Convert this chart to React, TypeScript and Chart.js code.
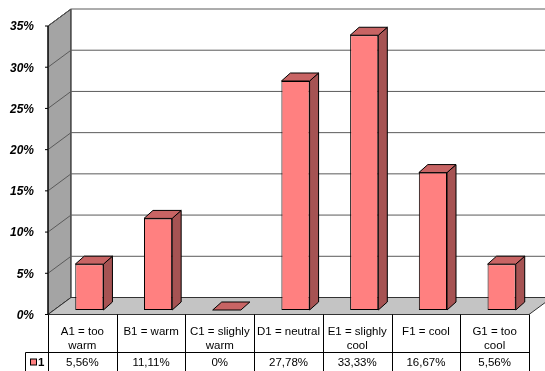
import React, { useEffect, useRef } from "react";
import { Chart, registerables } from "chart.js";

Chart.register(...registerables);

// Thermal sensation votes, share of answers per category
const categories: string[][] = [
  ["A1 = too", "warm"],
  ["B1 = warm"],
  ["C1 = slighly", "warm"],
  ["D1 = neutral"],
  ["E1 = slighly", "cool"],
  ["F1 = cool"],
  ["G1 = too", "cool"],
];
const shares: number[] = [5.56, 11.11, 0, 27.78, 33.33, 16.67, 5.56];
const seriesName = "1";
const axisMax = 35;
const axisStep = 5;

// 3D look: depth of walls/floor and of the columns
const WALL_DX = 23;
const WALL_DY = -17;
const BAR_SHIFT_X = 7;
const BAR_SHIFT_Y = -4.5;
const BAR_DX = 9;
const BAR_DY = -8;

const FRONT = "#ff8080";
const SIDE = "#a65353";
const TOP = "#c86464";
const LEFT_WALL = "#a4a4a4";
const FLOOR = "#c4c4c4";
const GRID = "#5a5a5a";
const FONT = "Arial, 'Liberation Sans', sans-serif";

const fmtValue = (v: number) =>
  v === 0 ? "0%" : v.toFixed(2).replace(".", ",") + "%";

const poly = (ctx: CanvasRenderingContext2D, pts: number[][], fill: string, stroke = "#000") => {
  ctx.beginPath();
  ctx.moveTo(pts[0][0], pts[0][1]);
  for (let i = 1; i < pts.length; i++) ctx.lineTo(pts[i][0], pts[i][1]);
  ctx.closePath();
  ctx.fillStyle = fill;
  ctx.fill();
  ctx.strokeStyle = stroke;
  ctx.lineWidth = 1;
  ctx.stroke();
};

const line = (ctx: CanvasRenderingContext2D, x1: number, y1: number, x2: number, y2: number, color: string) => {
  ctx.beginPath();
  ctx.moveTo(x1, y1);
  ctx.lineTo(x2, y2);
  ctx.strokeStyle = color;
  ctx.lineWidth = 1;
  ctx.stroke();
};

const box3d = {
  id: "box3d",
  beforeDatasetsDraw(chart: any) {
    const { ctx, chartArea: a, scales, width } = chart;
    const ys = scales.y;
    ctx.save();
    // left wall
    poly(ctx, [
      [a.left, a.top],
      [a.left + WALL_DX, a.top + WALL_DY],
      [a.left + WALL_DX, a.bottom + WALL_DY],
      [a.left, a.bottom],
    ], LEFT_WALL);
    // gridlines on back and left wall
    ys.ticks.forEach((t: any) => {
      const py = ys.getPixelForValue(t.value);
      if (t.value > 0) {
        line(ctx, a.left + WALL_DX, py + WALL_DY, width + 5, py + WALL_DY, GRID);
        line(ctx, a.left, py, a.left + WALL_DX, py + WALL_DY, GRID);
      }
    });
    // floor
    poly(ctx, [
      [a.left, a.bottom],
      [a.right, a.bottom],
      [a.right + WALL_DX, a.bottom + WALL_DY],
      [a.left + WALL_DX, a.bottom + WALL_DY],
    ], FLOOR, "#333");
    // front value axis with tick marks and labels
    line(ctx, a.left, a.top, a.left, a.bottom, "#000");
    ctx.font = `italic bold 12px ${FONT}`;
    ctx.fillStyle = "#000";
    ctx.textAlign = "right";
    ctx.textBaseline = "middle";
    ys.ticks.forEach((t: any) => {
      const py = ys.getPixelForValue(t.value);
      line(ctx, a.left - 3, py, a.left, py, "#000");
      ctx.fillText(`${t.value}%`, a.left - 14, py + 1);
    });
    ctx.restore();

    // columns sit in the middle of the floor depth
    ctx.save();
    ctx.translate(BAR_SHIFT_X, BAR_SHIFT_Y);
  },
  afterDatasetsDraw(chart: any) {
    const ctx = chart.ctx;
    const meta = chart.getDatasetMeta(0);
    meta.data.forEach((bar: any) => {
      const { x, y, base, width } = bar.getProps(["x", "y", "base", "width"], true);
      const l = x - width / 2;
      const r = x + width / 2;
      if (base - y > 0.5) {
        poly(ctx, [
          [r, y],
          [r + BAR_DX, y + BAR_DY],
          [r + BAR_DX, base + BAR_DY],
          [r, base],
        ], SIDE);
      }
      poly(ctx, [
        [l, y],
        [l + BAR_DX, y + BAR_DY],
        [r + BAR_DX, y + BAR_DY],
        [r, y],
      ], TOP);
    });
    ctx.restore();
  },
  afterDraw(chart: any) {
    const { ctx, chartArea: a, scales, height } = chart;
    const xs = scales.x;
    const n = categories.length;
    const cell = (a.right - a.left) / n;
    const rowY = a.bottom + 38;
    ctx.save();
    // data table grid
    for (let i = 0; i <= n; i++) {
      const px = Math.round(a.left + i * cell) + 0.5;
      line(ctx, px, a.bottom, px, height + 2, "#000");
    }
    line(ctx, 25.5, rowY, a.right, rowY, "#000");
    line(ctx, 25.5, rowY, 25.5, height + 2, "#000");
    // legend key
    ctx.fillStyle = FRONT;
    ctx.fillRect(30.5, rowY + 6.5, 6, 6);
    ctx.strokeStyle = "#000";
    ctx.strokeRect(30.5, rowY + 6.5, 6, 6);
    ctx.font = `bold 11.5px ${FONT}`;
    ctx.fillStyle = "#000";
    ctx.textAlign = "left";
    ctx.textBaseline = "middle";
    ctx.fillText(seriesName, 38, rowY + 10);
    // category labels and values
    ctx.textAlign = "center";
    ctx.font = `11.5px ${FONT}`;
    categories.forEach((lines, i) => {
      const cx = xs.getPixelForValue(i);
      lines.forEach((s, k) => ctx.fillText(s, cx, a.bottom + 17 + k * 14));
      ctx.fillText(fmtValue(shares[i]), cx, rowY + 10);
    });
    ctx.restore();
  },
};

export default function App() {
  const ref = useRef<HTMLCanvasElement | null>(null);
  useEffect(() => {
    if (!ref.current) return;
    const chart = new Chart(ref.current, {
      type: "bar",
      data: {
        labels: categories,
        datasets: [
          {
            label: seriesName,
            data: shares,
            backgroundColor: FRONT,
            borderColor: "#000",
            borderWidth: 1,
            borderSkipped: false,
            categoryPercentage: 1,
            barPercentage: 0.41,
            clip: false as any,
          },
        ],
      },
      options: {
        responsive: false,
        animation: false,
        layout: { padding: { left: 48, top: 26, right: 16, bottom: 56.5 } },
        plugins: { legend: { display: false }, tooltip: { enabled: false } },
        scales: {
          x: { display: false, grid: { display: false } },
          y: {
            display: false,
            min: 0,
            max: axisMax,
            ticks: { stepSize: axisStep },
            grid: { display: false },
          },
        },
      },
      plugins: [box3d],
    });
    return () => chart.destroy();
  }, []);
  return (
    <div style={{ position: "fixed", left: 0, top: 0, width: 545, height: 371, background: "#fff" }}>
      <canvas ref={ref} width={545} height={371} style={{ display: "block" }} />
    </div>
  );
}
